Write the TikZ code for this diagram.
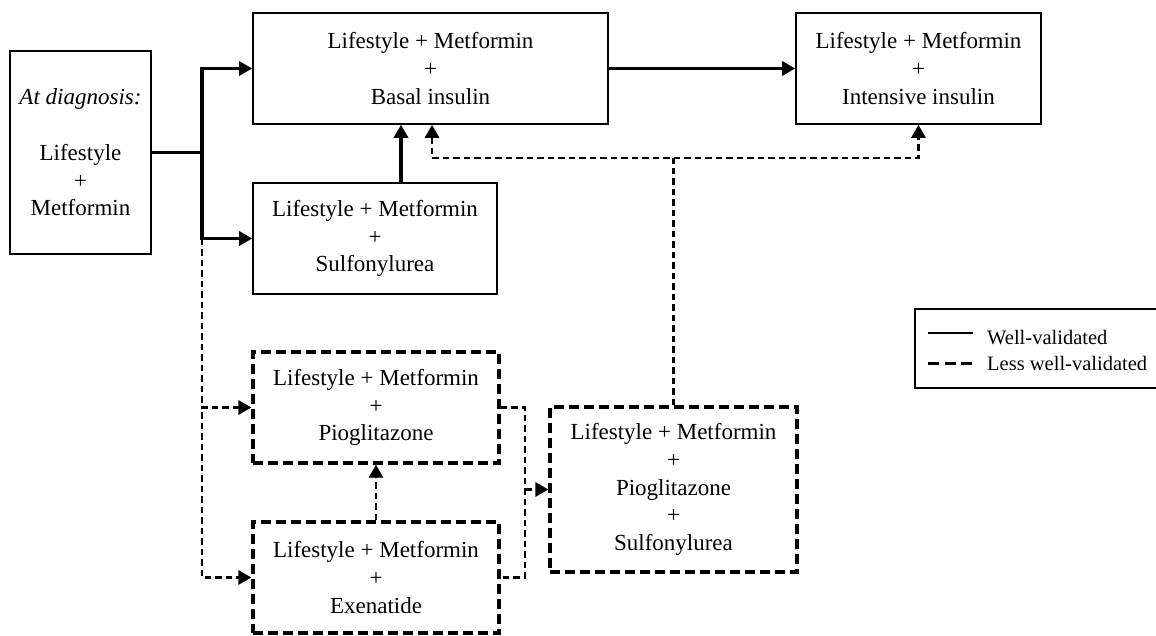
\documentclass[tikz,border=0pt]{standalone}
\usepackage{fontspec}
\setmainfont{Liberation Serif}
\usetikzlibrary{arrows.meta}
\begin{document}
\begin{tikzpicture}[x=1pt,y=-1pt,
  box/.style={draw, line width=1.6pt, inner sep=0pt, align=center,
    font=\fontsize{23}{27.7}\selectfont},
  dbox/.style={box, line width=3.2pt, dash pattern=on 10pt off 5pt},
  strongline/.style={line width=3.6pt, line join=miter},
  weakline/.style={line width=2.8pt, dash pattern=on 6.5pt off 4pt},
  tipS/.tip={Triangle[length=13pt,width=14pt]},
  legtext/.style={anchor=base west, inner sep=0pt, font=\fontsize{20.5}{24}\selectfont}
]
\useasboundingbox (0,0) rectangle (1156,635);

% treatment boxes
\node[box, minimum width=141pt, minimum height=203pt] (diag) at (80.5,152.5)
  {\textit{At diagnosis:}\\[27.7pt]Lifestyle\\+\\Metformin};
\node[box, minimum width=355pt, minimum height=111pt] (basal) at (430.5,68.5)
  {Lifestyle + Metformin\\+\\Basal insulin};
\node[box, minimum width=245pt, minimum height=111pt] (intens) at (918.5,68.5)
  {Lifestyle + Metformin\\+\\Intensive insulin};
\node[box, minimum width=244pt, minimum height=111pt] (sulf) at (375,238.5)
  {Lifestyle + Metformin\\+\\Sulfonylurea};
\node[dbox, minimum width=246pt, minimum height=111pt] (pio) at (376,407.5)
  {Lifestyle + Metformin\\+\\Pioglitazone};
\node[dbox, minimum width=246pt, minimum height=111pt] (exen) at (376,577.5)
  {Lifestyle + Metformin\\+\\Exenatide};
\node[dbox, minimum width=247pt, minimum height=165pt] (piosulf) at (673.5,489.5)
  {Lifestyle + Metformin\\+\\Pioglitazone\\+\\Sulfonylurea};

% routing columns and rows
\coordinate (br) at (202,0);
\coordinate (rc) at (525,0);
\coordinate (hr) at (0,158);

% well-validated steps
\draw[strongline] (diag.east) -- (br |- diag.east);
\draw[strongline, tipS-tipS] (basal.west) -- (br |- basal.west)
  -- (br |- sulf.west) -- (sulf.west);
\draw[strongline, -tipS] (basal.east) -- (intens.west);
\draw[strongline, -tipS] ([xshift=26pt]sulf.north) -- ([xshift=26pt]sulf.north |- basal.south);

% less well-validated steps
\draw[weakline] (br |- sulf.west) -- (br |- pio.west);
\draw[weakline, tipS-tipS] (pio.west) -- (br |- pio.west)
  -- (br |- exen.west) -- (exen.west);
\draw[weakline, -tipS] (exen.north) -- (pio.south);
\draw[weakline] (pio.east) -- (rc |- pio.east) -- (rc |- exen.east) -- (exen.east);
\draw[weakline, -tipS] (rc |- piosulf.west) -- (piosulf.west);
\draw[weakline] (piosulf.north) -- (piosulf.north |- hr);
\draw[weakline, tipS-tipS] ([xshift=1.5pt]basal.south) -- ([xshift=1.5pt]basal.south |- hr)
  -- (intens.south |- hr) -- (intens.south);

% legend
\node[draw, line width=1.6pt, minimum width=242pt, minimum height=79pt, inner sep=0pt]
  (legend) at (1036,348.5) {};
\coordinate (ls1) at (928,333);
\coordinate (le1) at (973,333);
\coordinate (ls2) at (928,363);
\coordinate (le2) at (973,363);
\draw[line width=2.2pt] (ls1) -- (le1);
\draw[line width=3pt, dash pattern=on 11pt off 5.5pt] (ls2) -- (le2);
\node[legtext] (lwell) at (987,344) {Well-validated};
\node[legtext] (lless) at (987,370) {Less well-validated};
\end{tikzpicture}
\end{document}
